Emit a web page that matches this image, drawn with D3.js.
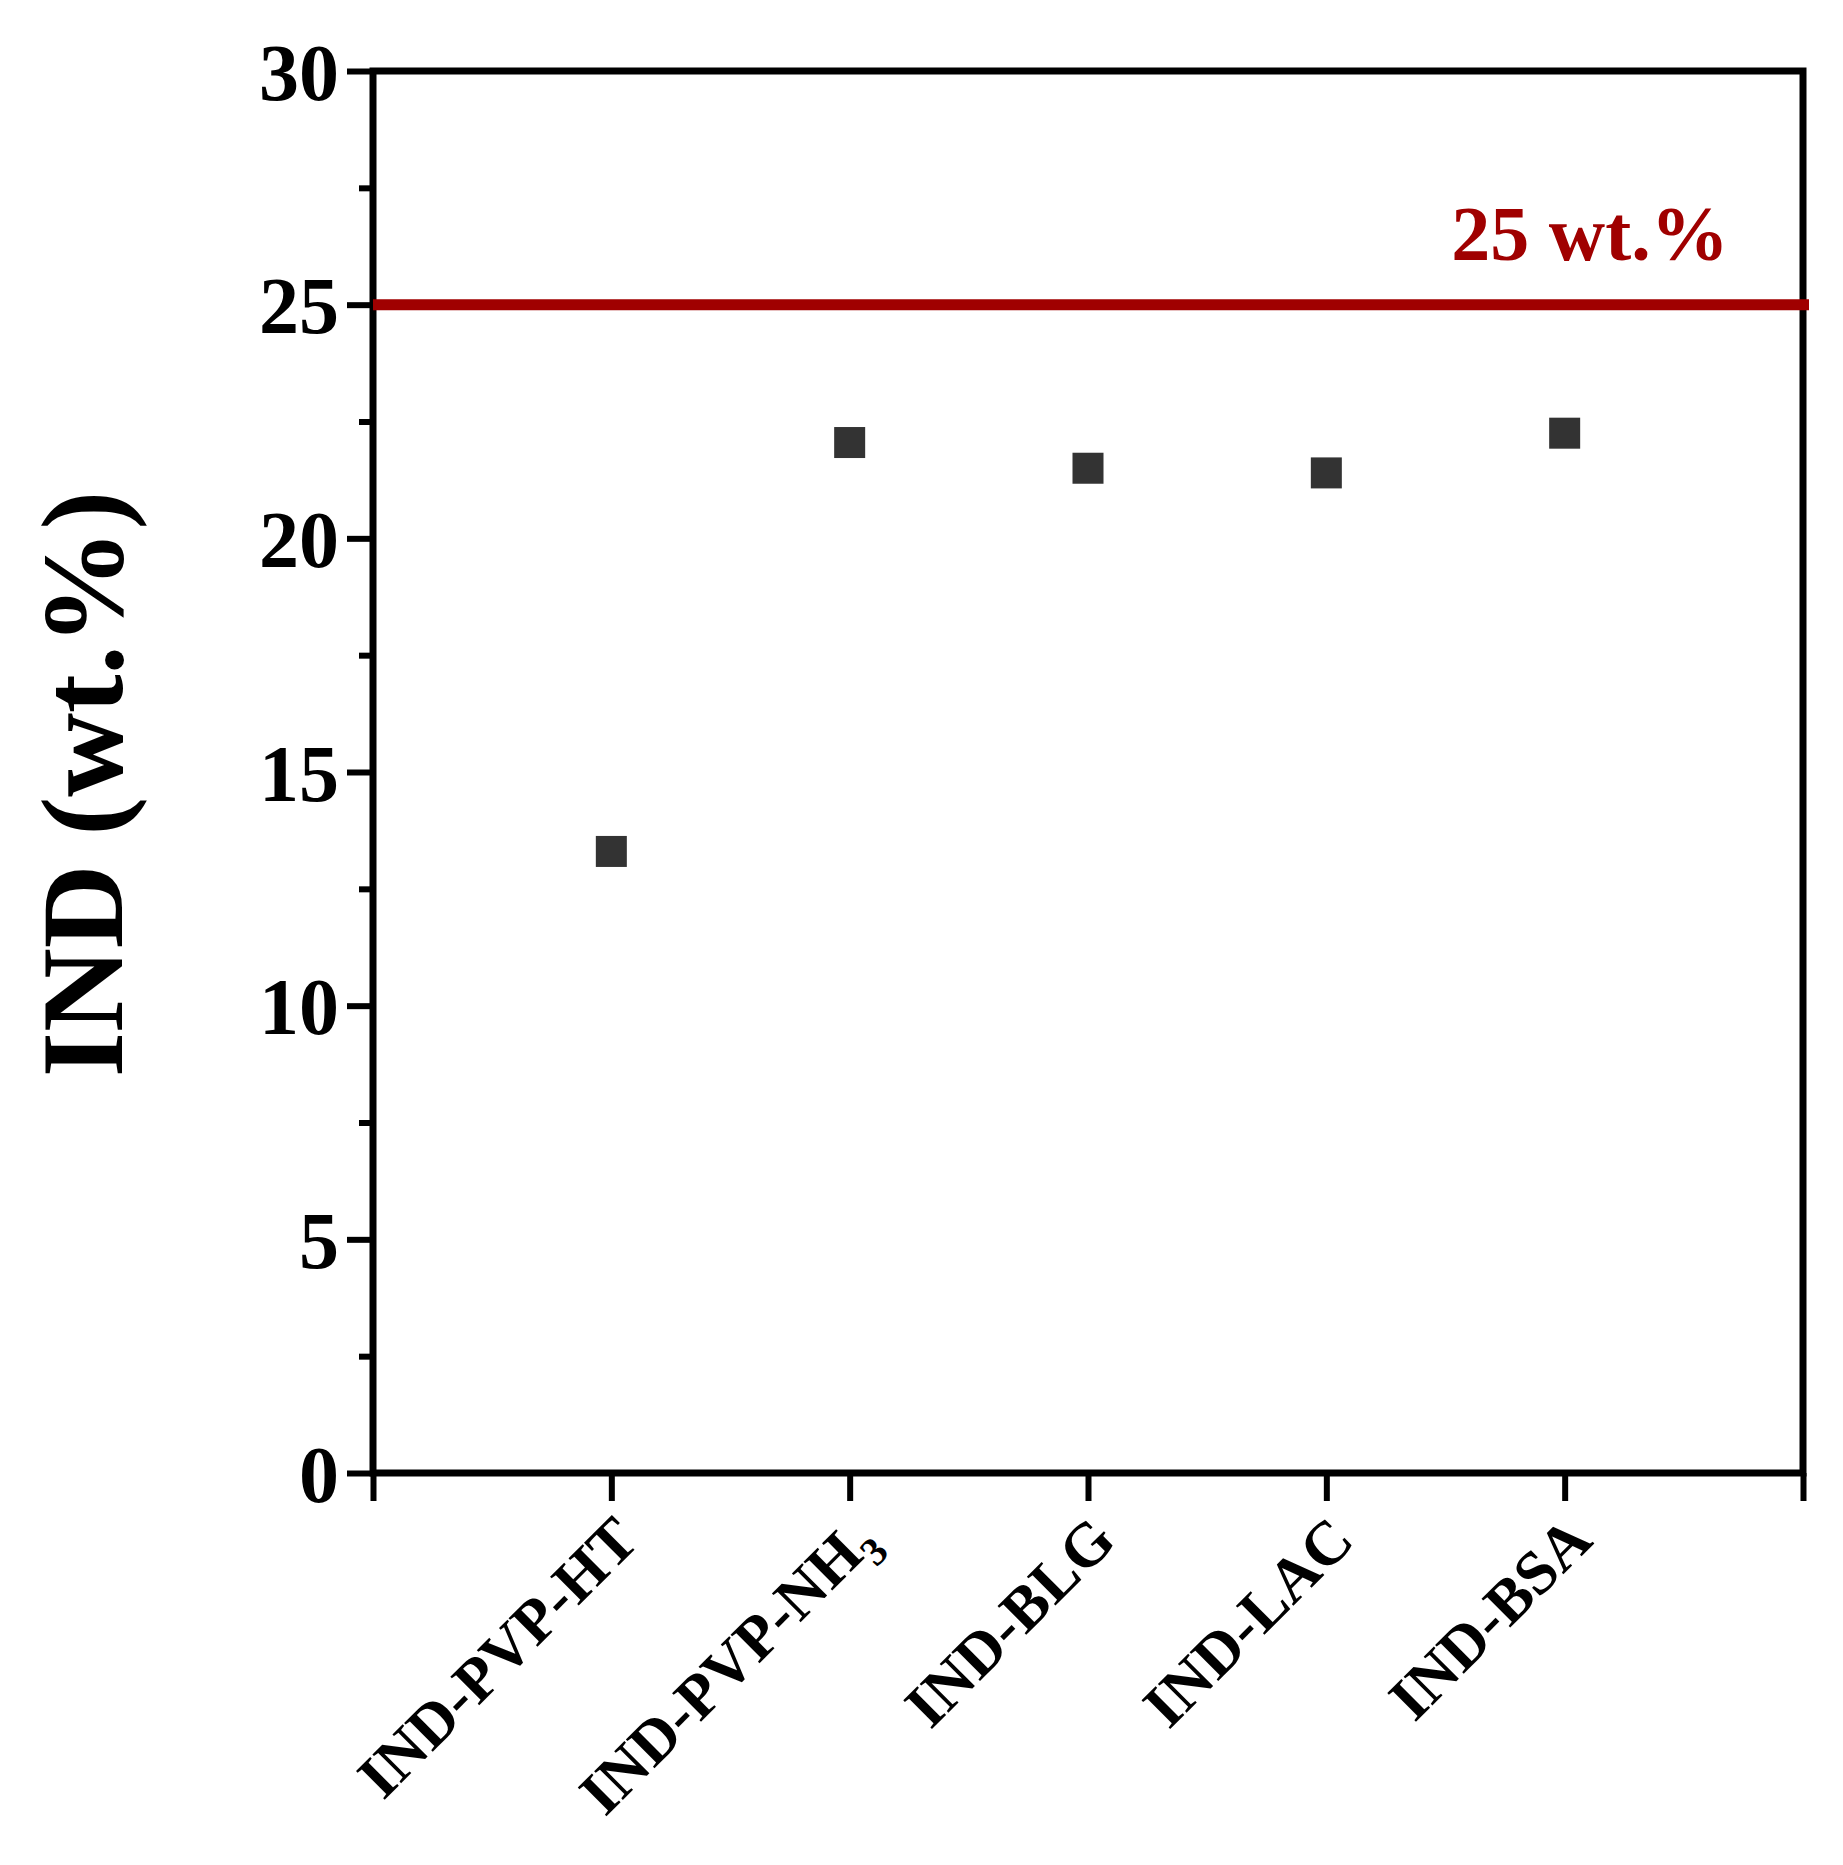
<!DOCTYPE html>
<html><head><meta charset="utf-8">
<script src="https://cdn.jsdelivr.net/npm/d3@7"></script>
<style>body{margin:0;background:#fff}text{font-family:"Liberation Serif","Times New Roman",serif;font-weight:bold}</style>
</head><body><svg id="c" width="1843" height="1865"></svg>
<script>
const categories = ["IND-PVP-HT", "IND-PVP-NH3", "IND-BLG", "IND-LAC", "IND-BSA"];
const values = [13.3, 22.05, 21.5, 21.4, 22.25];
const yTicks = [0, 5, 10, 15, 20, 25, 30];
const limit = 25;

const m = {left: 373, right: 1803, top: 71, bottom: 1473};
const svg = d3.select("#c");
const x = d3.scaleLinear().domain([0, 6]).range([m.left, m.right]);
const y = d3.scaleLinear().domain([0, 30]).range([m.bottom, m.top]);

// y axis with major + minor ticks
const gy = svg.append("g").attr("transform", `translate(${m.left},0)`);
gy.call(d3.axisLeft(y).tickValues(d3.range(2.5, 30, 5)).tickSize(14).tickFormat(""));
gy.append("g").call(d3.axisLeft(y).tickValues(yTicks).tickSize(26).tickPadding(8));
gy.selectAll("path").remove();
gy.selectAll("line").attr("stroke", "#000").attr("stroke-width", 6);
gy.selectAll("text").attr("font-size", 80).attr("fill", "#000").attr("dy", "0.35em");

// x axis ticks
const gx = svg.append("g").attr("transform", `translate(0,${m.bottom})`);
gx.call(d3.axisBottom(x).tickValues(d3.range(0, 7)).tickSize(28).tickFormat(""));
gx.selectAll("path").remove();
gx.selectAll("line").attr("stroke", "#000").attr("stroke-width", 6);

// frame
svg.append("rect").attr("x", m.left).attr("y", m.top)
  .attr("width", m.right - m.left).attr("height", m.bottom - m.top)
  .attr("fill", "none").attr("stroke", "#000").attr("stroke-width", 7);

// category labels
categories.forEach((c, i) => {
  const t = svg.append("text")
    .attr("transform", `translate(${x(i + 1) + 30},${m.bottom + 70}) rotate(-45)`)
    .attr("text-anchor", "end").attr("font-size", 62).attr("fill", "#000");
  if (c.endsWith("NH3")) {
    t.append("tspan").text(c.slice(0, -1));
    t.append("tspan").attr("font-size", 40).attr("dy", 15).text("3");
  } else t.text(c);
});

// limit line
svg.append("line").attr("x1", m.left).attr("x2", m.right + 6)
  .attr("y1", y(limit)).attr("y2", y(limit))
  .attr("stroke", "#a00000").attr("stroke-width", 11);
svg.append("text").attr("x", 1590).attr("y", 260).attr("text-anchor", "middle")
  .attr("font-size", 78).attr("fill", "#a00000").text(`${limit} wt.%`);

// points
const s = 31;
svg.selectAll("rect.pt").data(values).join("rect").attr("class", "pt")
  .attr("x", (d, i) => x(i + 1) - s / 2).attr("y", d => y(d) - s / 2)
  .attr("width", s).attr("height", s).attr("fill", "#333");

// y label
svg.append("text").attr("transform", `translate(122,${(m.top + m.bottom) / 2 + 12}) rotate(-90)`)
  .attr("text-anchor", "middle").attr("font-size", 116).attr("fill", "#000").text("IND (wt.%)");
</script></body></html>
